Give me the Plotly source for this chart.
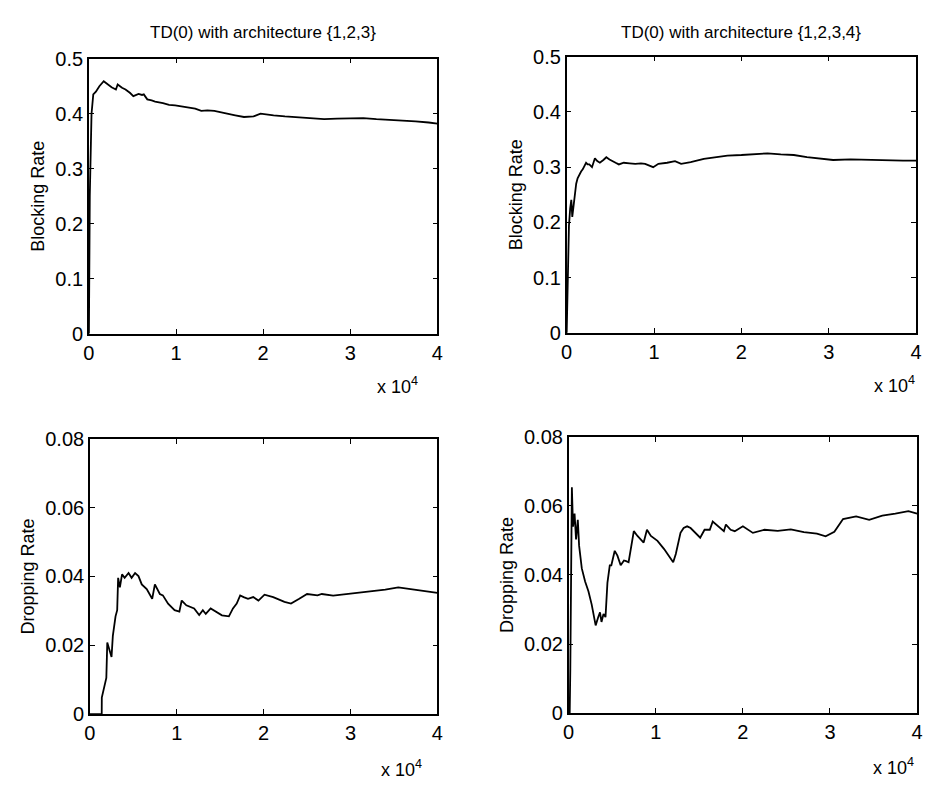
import plotly.graph_objects as go

# ---- data (iterations in units of 10^4) ----
blk123_x = [0, 0.01, 0.03, 0.05, 0.08, 0.12, 0.17, 0.22, 0.26, 0.31, 0.33, 0.38, 0.42, 0.47, 0.51,
            0.57, 0.61, 0.63, 0.67, 0.72, 0.76, 0.85, 0.92, 0.99, 1.06, 1.14, 1.22, 1.29, 1.36, 1.44,
            1.52, 1.59, 1.68, 1.78, 1.89, 1.97, 2.05, 2.12, 2.25, 2.4, 2.55, 2.7, 2.85, 3.0, 3.15,
            3.3, 3.45, 3.6, 3.75, 3.9, 4.0]
blk123_y = [0.0, 0.25, 0.40, 0.435, 0.44, 0.45, 0.459, 0.452, 0.448, 0.444, 0.453, 0.447, 0.444, 0.438, 0.432,
            0.436, 0.434, 0.435, 0.426, 0.424, 0.422, 0.419, 0.416, 0.415, 0.413, 0.412, 0.409, 0.405, 0.406, 0.405,
            0.402, 0.399, 0.397, 0.394, 0.395, 0.400, 0.398, 0.397, 0.395, 0.393, 0.392, 0.390, 0.391, 0.391, 0.392,
            0.390, 0.389, 0.388, 0.386, 0.384, 0.382]

blk1234_x = [0, 0.008, 0.015, 0.026, 0.04, 0.053, 0.064, 0.075, 0.083, 0.095, 0.109, 0.125, 0.146, 0.165, 0.184,
             0.2, 0.222, 0.24, 0.259, 0.29, 0.323, 0.35, 0.38, 0.42, 0.454, 0.49, 0.52, 0.56, 0.597, 0.654,
             0.72, 0.785, 0.85, 0.898, 0.99, 1.05, 1.15, 1.24, 1.31, 1.42, 1.57, 1.69, 1.84, 2.0, 2.15,
             2.3, 2.45, 2.6, 2.75, 2.9, 3.05, 3.25, 3.45, 3.65, 3.85, 4.0]
blk1234_y = [0.0, 0.07, 0.118, 0.194, 0.225, 0.241, 0.21, 0.228, 0.235, 0.255, 0.27, 0.28, 0.287, 0.292, 0.296,
             0.301, 0.308, 0.305, 0.305, 0.300, 0.316, 0.311, 0.308, 0.313, 0.318, 0.314, 0.312, 0.308, 0.305, 0.308,
             0.307, 0.306, 0.307, 0.306, 0.300, 0.306, 0.308, 0.311, 0.306, 0.309, 0.315, 0.318, 0.321, 0.322, 0.323,
             0.325, 0.323, 0.322, 0.318, 0.315, 0.313, 0.314, 0.313, 0.313, 0.312, 0.312]

drp123_x = [0, 0.136, 0.137, 0.162, 0.189, 0.2, 0.22, 0.249, 0.264, 0.295, 0.314, 0.325, 0.345, 0.37, 0.4,
            0.445, 0.48, 0.52, 0.559, 0.597, 0.654, 0.717, 0.748, 0.805, 0.84, 0.9, 0.975, 1.03, 1.057, 1.11,
            1.2, 1.258, 1.3, 1.334, 1.39, 1.45, 1.52, 1.6, 1.647, 1.69, 1.73, 1.77, 1.82, 1.88, 1.94,
            2.01, 2.11, 2.24, 2.315, 2.41, 2.5, 2.62, 2.67, 2.8, 2.95, 3.1, 3.25, 3.4, 3.55, 3.7, 3.85, 4.0]
drp123_y = [0.0, 0.0, 0.0048, 0.0077, 0.0105, 0.0208, 0.019, 0.0166, 0.0227, 0.0284, 0.0302, 0.0396, 0.0368, 0.0406, 0.0396,
            0.041, 0.0396, 0.041, 0.0401, 0.0377, 0.0363, 0.0335, 0.0377, 0.0349, 0.0345, 0.0321, 0.0302, 0.0298, 0.033, 0.0316,
            0.0307, 0.0288, 0.0302, 0.0291, 0.0307, 0.0298, 0.0287, 0.0284, 0.0307, 0.0321, 0.0345, 0.034, 0.0335, 0.034, 0.033,
            0.0347, 0.034, 0.0326, 0.0321, 0.0335, 0.0349, 0.0345, 0.0349, 0.0344, 0.0348, 0.0352, 0.0357, 0.0362, 0.0368, 0.0362, 0.0358, 0.0352]

drp1234_x = [0, 0.012, 0.019, 0.028, 0.037, 0.05, 0.068, 0.085, 0.105, 0.12, 0.151, 0.189, 0.227, 0.264, 0.31,
             0.34, 0.36, 0.377, 0.4, 0.423, 0.445, 0.472, 0.49, 0.529, 0.56, 0.597, 0.635, 0.66, 0.688, 0.748,
             0.79, 0.861, 0.899, 0.944, 1.02, 1.096, 1.2, 1.23, 1.284, 1.32, 1.36, 1.4, 1.435, 1.51, 1.56,
             1.62, 1.654, 1.72, 1.782, 1.805, 1.86, 1.907, 2.0, 2.115, 2.19, 2.247, 2.4, 2.55, 2.7, 2.85,
             2.95, 3.05, 3.15, 3.3, 3.45, 3.6, 3.75, 3.9, 4.0]
drp1234_y = [0.0, 0.0, 0.0128, 0.04, 0.0654, 0.054, 0.0578, 0.0503, 0.056, 0.0485, 0.0419, 0.0381, 0.0353, 0.0315, 0.0254,
             0.0278, 0.0292, 0.0264, 0.0287, 0.0278, 0.0377, 0.0428, 0.0428, 0.047, 0.0456, 0.0428, 0.0442, 0.044, 0.0437, 0.0527,
             0.0513, 0.0494, 0.0531, 0.0513, 0.0499, 0.0475, 0.0437, 0.0461, 0.0522, 0.0536, 0.0541, 0.0536, 0.0527, 0.0508, 0.0531,
             0.0531, 0.0555, 0.0541, 0.0527, 0.0546, 0.0531, 0.0527, 0.0541, 0.0522, 0.0527, 0.0531, 0.0528, 0.0532, 0.0524, 0.0520,
             0.0512, 0.0525, 0.0562, 0.0570, 0.0560, 0.0572, 0.0578, 0.0585, 0.0578]

titles = ["TD(0) with architecture {1,2,3}", "TD(0) with architecture {1,2,3,4}"]
ylabels = ["Blocking Rate", "Dropping Rate"]
x_ticks = [0, 1, 2, 3, 4]
blk_ticks = [0, 0.1, 0.2, 0.3, 0.4, 0.5]
drp_ticks = [0, 0.02, 0.04, 0.06, 0.08]

W, H = 931, 797
def px_x(a, b):
    return [a / W, b / W]
def px_y(top, bottom):
    return [1 - bottom / H, 1 - top / H]

panels = [
    dict(x=blk123_x, y=blk123_y, xd=px_x(84, 437), yd=px_y(49, 332), yr=[0, 0.5], yt=blk_ticks,
         yl=ylabels[0], mx=419, my=385),
    dict(x=blk1234_x, y=blk1234_y, xd=px_x(568, 922), yd=px_y(47, 331), yr=[0, 0.5], yt=blk_ticks,
         yl=ylabels[0], mx=923, my=384),
    dict(x=drp123_x, y=drp123_y, xd=px_x(85, 437), yd=px_y(440, 723), yr=[0, 0.08], yt=drp_ticks,
         yl=ylabels[1], mx=423, my=779),
    dict(x=drp1234_x, y=drp1234_y, xd=px_x(570, 923), yd=px_y(438, 722), yr=[0, 0.08], yt=drp_ticks,
         yl=ylabels[1], mx=922, my=777),
]

FONT = "Liberation Sans, Arial, Helvetica, sans-serif"
fig = go.Figure()
layout = dict(width=W, height=H, margin=dict(l=0, r=0, t=0, b=0),
              paper_bgcolor="white", plot_bgcolor="white", showlegend=False,
              font=dict(family=FONT, color="black", size=18))
annotations = []
for i, p in enumerate(panels, start=1):
    xa = "x" if i == 1 else f"x{i}"
    ya = "y" if i == 1 else f"y{i}"
    fig.add_trace(go.Scatter(x=p["x"], y=p["y"], mode="lines",
                             line=dict(color="black", width=1.8), xaxis=xa, yaxis=ya))
    xkey = "xaxis" if i == 1 else f"xaxis{i}"
    ykey = "yaxis" if i == 1 else f"yaxis{i}"
    layout[xkey] = dict(domain=p["xd"], anchor=ya, range=[0, 4], tickvals=x_ticks,
                        ticktext=[str(t) for t in x_ticks], ticks="inside", ticklen=5,
                        tickcolor="black", showline=True, linecolor="black", linewidth=1.5,
                        mirror="ticks", showgrid=False, zeroline=False,
                        tickfont=dict(size=20), fixedrange=True)
    layout[ykey] = dict(domain=p["yd"], anchor=xa, range=p["yr"], tickvals=p["yt"],
                        ticktext=[("%g" % t) for t in p["yt"]], ticks="inside", ticklen=5,
                        tickcolor="black", showline=True, linecolor="black", linewidth=1.5,
                        mirror="ticks", showgrid=False, zeroline=False,
                        tickfont=dict(size=20),
                        title=dict(text=p["yl"], font=dict(size=18), standoff=6))
    annotations.append(dict(text="x 10<sup>4</sup>", xref="paper", yref="paper",
                            x=p["mx"] / W, y=1 - p["my"] / H, xanchor="right", yanchor="middle",
                            showarrow=False, font=dict(size=18)))

for t, xd in zip(titles, [panels[0]["xd"], panels[1]["xd"]]):
    annotations.append(dict(text=t, xref="paper", yref="paper", x=(xd[0] + xd[1]) / 2,
                            y=1 - 22 / H, xanchor="center", yanchor="middle",
                            showarrow=False, font=dict(size=17)))
layout["annotations"] = annotations
fig.update_layout(**layout)
fig.write_html("out.html")
